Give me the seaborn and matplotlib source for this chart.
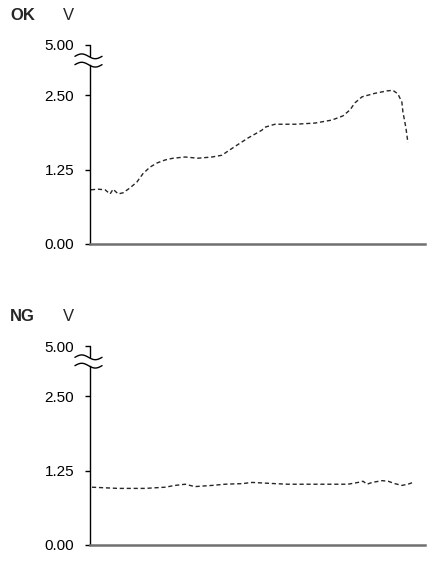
import matplotlib
matplotlib.use("Agg")
import matplotlib.pyplot as plt
import matplotlib.transforms as mtransforms
import numpy as np
import pandas as pd
import seaborn as sns

# position along the sweep (arbitrary units, 0-100) and voltage
ok_x = [0.3, 2.4, 4.5, 6.0, 6.9, 8.4, 9.9, 11.9, 14.0, 15.8, 17.9, 20.0, 22.4,
        24.8, 28.4, 32.2, 36.4, 39.4, 41.2, 43.9, 47.2, 51.3, 52.2, 55.2, 61.2,
        67.2, 72.2, 75.5, 77.6, 79.1, 81.2, 85.1, 88.7, 90.4, 91.9, 93.1, 93.4,
        94.3, 94.9]
ok_v = [0.91, 0.92, 0.91, 0.84, 0.92, 0.84, 0.86, 0.94, 1.04, 1.18, 1.29, 1.36, 1.41,
        1.44, 1.46, 1.44, 1.46, 1.49, 1.56, 1.66, 1.78, 1.91, 1.96, 2.01, 2.01,
        2.03, 2.08, 2.15, 2.25, 2.37, 2.47, 2.53, 2.57, 2.58, 2.52, 2.38, 2.22,
        1.95, 1.70]

ng_x = [0.6, 8.4, 16.4, 22.4, 25.4, 28.4, 31.3, 36.4, 40.3, 45.4, 48.4, 55.2,
        59.1, 69.3, 77.0, 80.0, 81.5, 82.7, 84.2, 87.2, 89.0, 91.0, 93.1, 94.9,
        96.4]
ng_v = [0.97, 0.95, 0.95, 0.97, 1.00, 1.02, 0.98, 1.00, 1.02, 1.03, 1.05, 1.03,
        1.02, 1.02, 1.02, 1.05, 1.07, 1.02, 1.05, 1.08, 1.07, 1.03, 1.00, 1.02,
        1.05]

tick_labels = ["0.00", "1.25", "2.50", "5.00"]
tick_pos = [0.0, 1.25, 2.5, 3.34]   # 5.00 sits above the axis break
panel_names = ["OK", "NG"]

sns.set_theme(style="ticks")
plt.rcParams["font.family"] = ["Liberation Sans", "DejaVu Sans"]

fig = plt.figure(figsize=(4.35, 5.62), dpi=100)
ax_ok = fig.add_axes([90 / 435, 1 - 244 / 562, 335 / 435, 199 / 562])
ax_ng = fig.add_axes([90 / 435, 1 - 545 / 562, 335 / 435, 199 / 562])

panels = [
    (ax_ok, pd.DataFrame({"x": ok_x, "v": ok_v})),
    (ax_ng, pd.DataFrame({"x": ng_x, "v": ng_v})),
]

for ax, df in panels:
    sns.lineplot(data=df, x="x", y="v", ax=ax, color="#262626",
                 linewidth=1.0, linestyle=(0, (3, 2)))
    ax.set_xlim(0, 100)
    ax.set_ylim(0, 3.34)
    ax.set_xticks([])
    ax.set_yticks(tick_pos)
    ax.set_yticklabels(tick_labels)
    ax.tick_params(axis="y", length=3.5, width=1, pad=8, labelsize=11,
                   colors="black")
    ax.set_xlabel("")
    ax.set_ylabel("")
    for s in ["top", "right"]:
        ax.spines[s].set_visible(False)
    ax.spines["bottom"].set_color("#707070")
    ax.spines["bottom"].set_linewidth(1.8)
    ax.spines["left"].set_color("black")
    ax.spines["left"].set_linewidth(1.0)
    ax.spines["left"].set_bounds(0, 3.01)

    # axis break: short segment up to the 5.00 tick plus two tildes
    tr = mtransforms.blended_transform_factory(ax.transAxes, ax.transData)
    ax.plot([0, 0], [3.15, 3.34], transform=tr, color="black", lw=1.0,
            clip_on=False)
    t = np.linspace(0, 1, 40)
    xs = -0.045 + 0.081 * t
    for c in (3.15, 3.01):
        ax.plot(xs, c + 0.04 * np.sin(2 * np.pi * t), transform=tr,
                color="black", lw=1.0, clip_on=False)

for name, base in zip(panel_names, [20, 321]):
    fig.text(10 / 435, 1 - base / 562, name, fontsize=12, fontweight="bold",
             ha="left", va="baseline")
    fig.text(63 / 435, 1 - base / 562, "V", fontsize=12, ha="left",
             va="baseline")

fig.savefig("out.png", dpi=100, facecolor="white")
